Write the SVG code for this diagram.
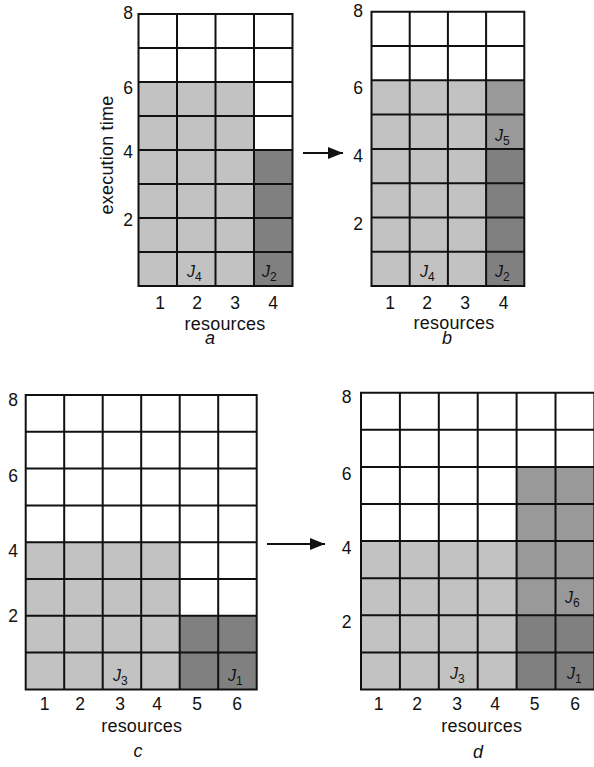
<svg xmlns="http://www.w3.org/2000/svg" width="594" height="767" viewBox="0 0 594 767">
<defs>
<style>
.grid{fill:none;stroke:#111;stroke-width:2;stroke-linecap:square}
.lt{fill:#c2c2c2}
.md{fill:#999999}
.dk{fill:#808080}
text{font-family:"Liberation Sans",Arial,Helvetica,sans-serif;fill:#111}
.num{font-size:17.5px;text-anchor:middle}
.word{font-size:18px;letter-spacing:0.2px;text-anchor:middle}
.pl{font-size:18px;font-style:italic;text-anchor:middle}
.job{font-size:16px;font-style:italic}
.sub{font-size:12px;font-style:normal}
.conn{stroke:#111;stroke-width:2;fill:none}
</style>
<marker id="ah" markerUnits="userSpaceOnUse" markerWidth="15" markerHeight="12" refX="15" refY="6" orient="auto">
<path d="M0,0 L15,6 L0,12 z" fill="#111"/>
</marker>
</defs>
<rect width="594" height="767" fill="#fff"/>

<g id="panel-a">
<rect class="lt" x="138.5" y="82" width="115.5" height="204"/>
<rect class="dk" x="254" y="150" width="38.5" height="136"/>
<path class="grid" d="M138.5,14V286M177,14V286M215.5,14V286M254,14V286M292.5,14V286M138.5,14H292.5M138.5,48H292.5M138.5,82H292.5M138.5,116H292.5M138.5,150H292.5M138.5,184H292.5M138.5,218H292.5M138.5,252H292.5M138.5,286H292.5"/>
<text class="num" x="128" y="18.5">8</text>
<text class="num" x="128" y="94">6</text>
<text class="num" x="128" y="158">4</text>
<text class="num" x="128" y="226">2</text>
<text class="word" transform="translate(113,155) rotate(-90)">execution time</text>
<text class="num" x="160" y="308.5">1</text>
<text class="num" x="197" y="308.5">2</text>
<text class="num" x="235" y="308.5">3</text>
<text class="num" x="273" y="308.5">4</text>
<text class="word" x="225" y="330">resources</text>
<text class="pl" x="210" y="343.5">a</text>
<text class="job" x="187" y="277">J<tspan class="sub" dy="3.5">4</tspan></text>
<text class="job" x="262" y="277">J<tspan class="sub" dy="3.5">2</tspan></text>
</g>

<g id="panel-b">
<rect class="lt" x="371.5" y="80.3" width="114.6" height="205.8"/>
<rect class="md" x="486.1" y="80.3" width="38.2" height="68.6"/>
<rect class="dk" x="486.1" y="148.9" width="38.2" height="137.2"/>
<path class="grid" d="M371.5,11.7V286.1M409.7,11.7V286.1M447.9,11.7V286.1M486.1,11.7V286.1M524.3,11.7V286.1M371.5,11.7H524.3M371.5,46H524.3M371.5,80.3H524.3M371.5,114.6H524.3M371.5,148.9H524.3M371.5,183.2H524.3M371.5,217.5H524.3M371.5,251.8H524.3M371.5,286.1H524.3"/>
<text class="num" x="358" y="17">8</text>
<text class="num" x="358" y="93.5">6</text>
<text class="num" x="358" y="161.5">4</text>
<text class="num" x="358" y="230">2</text>
<text class="num" x="390" y="308.5">1</text>
<text class="num" x="427" y="308.5">2</text>
<text class="num" x="465" y="308.5">3</text>
<text class="num" x="503.5" y="308.5">4</text>
<text class="word" x="454" y="328.5">resources</text>
<text class="pl" x="447" y="343.5">b</text>
<text class="job" x="420" y="277">J<tspan class="sub" dy="3.5">4</tspan></text>
<text class="job" x="495" y="277">J<tspan class="sub" dy="3.5">2</tspan></text>
<text class="job" x="495" y="141">J<tspan class="sub" dy="3.5">5</tspan></text>
</g>

<g id="panel-c">
<rect class="lt" x="25.7" y="542.2" width="154" height="147.2"/>
<rect class="dk" x="179.7" y="615.8" width="77" height="73.6"/>
<path class="grid" d="M25.7,395V689.4M64.2,395V689.4M102.7,395V689.4M141.2,395V689.4M179.7,395V689.4M218.2,395V689.4M256.7,395V689.4M25.7,395H256.7M25.7,431.8H256.7M25.7,468.6H256.7M25.7,505.4H256.7M25.7,542.2H256.7M25.7,579H256.7M25.7,615.8H256.7M25.7,652.6H256.7M25.7,689.4H256.7"/>
<text class="num" x="13" y="405.5">8</text>
<text class="num" x="13" y="481.5">6</text>
<text class="num" x="13" y="556.5">4</text>
<text class="num" x="13" y="621.5">2</text>
<text class="num" x="44.5" y="710">1</text>
<text class="num" x="80" y="710">2</text>
<text class="num" x="120" y="710">3</text>
<text class="num" x="157" y="710">4</text>
<text class="num" x="197" y="710">5</text>
<text class="num" x="237" y="710">6</text>
<text class="word" x="141.7" y="731.5">resources</text>
<text class="pl" x="138" y="756.5">c</text>
<text class="job" x="113" y="681">J<tspan class="sub" dy="3.5">3</tspan></text>
<text class="job" x="228" y="681">J<tspan class="sub" dy="3.5">1</tspan></text>
</g>

<g id="panel-d">
<rect class="lt" x="361" y="541.1" width="155.6" height="148.4"/>
<rect class="md" x="516.6" y="466.9" width="77.8" height="148.4"/>
<rect class="dk" x="516.6" y="615.3" width="77.8" height="74.2"/>
<path class="grid" d="M361,392.7V689.5M399.9,392.7V689.5M438.8,392.7V689.5M477.7,392.7V689.5M516.6,392.7V689.5M555.5,392.7V689.5M594.4,392.7V689.5M361,392.7H594.4M361,429.8H594.4M361,466.9H594.4M361,504H594.4M361,541.1H594.4M361,578.2H594.4M361,615.3H594.4M361,652.4H594.4M361,689.5H594.4"/>
<text class="num" x="346.5" y="403">8</text>
<text class="num" x="346.5" y="480">6</text>
<text class="num" x="346.5" y="554">4</text>
<text class="num" x="346.5" y="628">2</text>
<text class="num" x="378.5" y="710">1</text>
<text class="num" x="417" y="710">2</text>
<text class="num" x="457" y="710">3</text>
<text class="num" x="495" y="710">4</text>
<text class="num" x="534.5" y="710">5</text>
<text class="num" x="575" y="710">6</text>
<text class="word" x="481.7" y="731.5">resources</text>
<text class="pl" x="478" y="758">d</text>
<text class="job" x="450" y="679">J<tspan class="sub" dy="3.5">3</tspan></text>
<text class="job" x="567" y="679">J<tspan class="sub" dy="3.5">1</tspan></text>
<text class="job" x="565" y="603">J<tspan class="sub" dy="3.5">6</tspan></text>
</g>

<g id="connectors">
<line class="conn" x1="303" y1="153" x2="343" y2="153" marker-end="url(#ah)"/>
<line class="conn" x1="267" y1="544" x2="325" y2="544" marker-end="url(#ah)"/>
</g>
</svg>
